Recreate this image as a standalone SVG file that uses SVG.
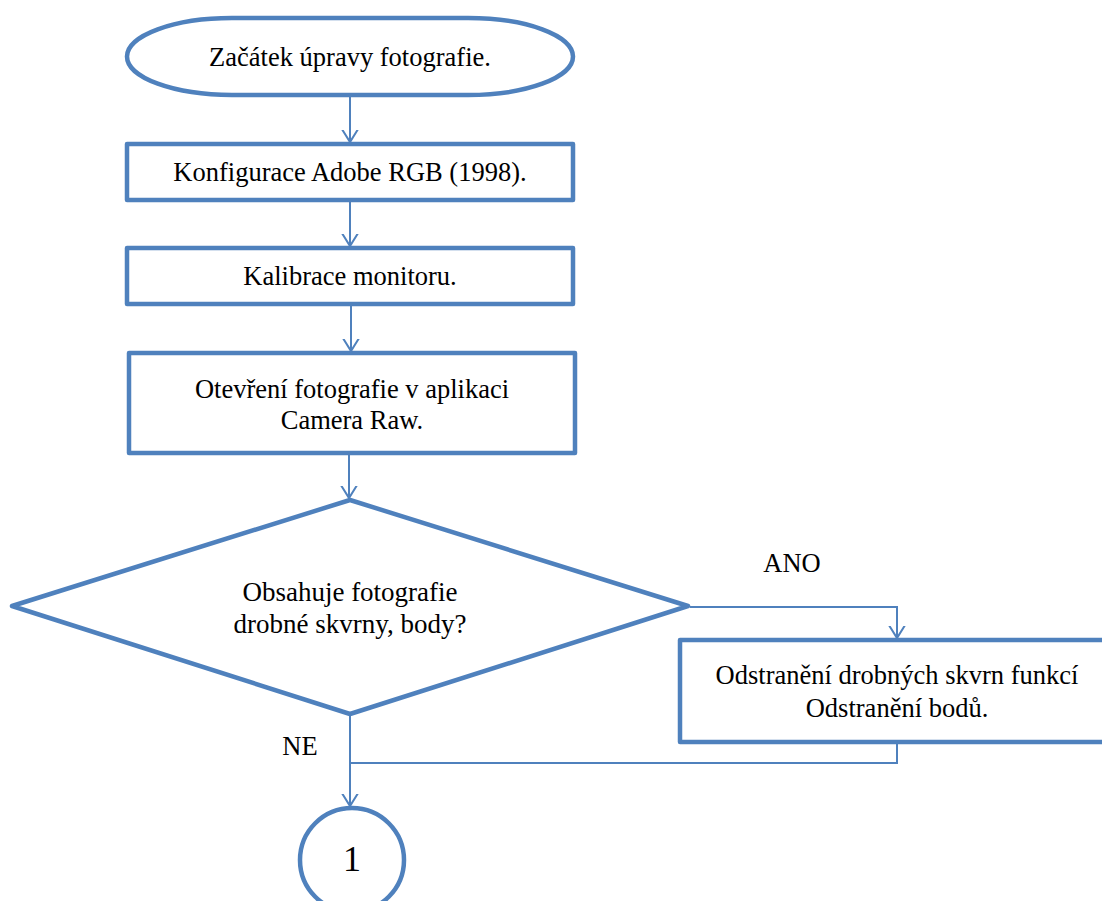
<svg xmlns="http://www.w3.org/2000/svg" width="1102" height="901" viewBox="0 0 1102 901">
<defs>
<style>
.shape{fill:#ffffff;stroke:#4F81BD;stroke-width:4.5;stroke-linejoin:round}
.conn{fill:none;stroke:#4F81BD;stroke-width:2}
.t{font-family:"Liberation Serif","Times New Roman",serif;font-size:26.5px;fill:#000000;text-anchor:middle}
.d{font-family:"Liberation Serif","Times New Roman",serif;font-size:27px;fill:#000000;text-anchor:middle}
</style>
<marker id="arr" viewBox="-12 -12 24 24" markerWidth="24" markerHeight="24" markerUnits="userSpaceOnUse" refX="0" refY="0" orient="auto">
<path d="M -16 -10 L 0 0 L -16 10" fill="none" stroke="#4F81BD" stroke-width="2"/>
</marker>
</defs>
<rect width="1102" height="901" fill="#ffffff"/>
<g id="connectors">
<line class="conn" x1="350" y1="96" x2="350" y2="142" marker-end="url(#arr)"/>
<line class="conn" x1="350" y1="202" x2="350" y2="246" marker-end="url(#arr)"/>
<line class="conn" x1="351" y1="306" x2="351" y2="351" marker-end="url(#arr)"/>
<line class="conn" x1="349" y1="455" x2="349" y2="498" marker-end="url(#arr)"/>
<polyline class="conn" points="690,607 897,607 897,638" marker-end="url(#arr)"/>
<polyline class="conn" points="897,744 897,763 350,763"/>
<line class="conn" x1="350" y1="716" x2="350" y2="806" marker-end="url(#arr)"/>
</g>
<g id="start">
<rect class="shape" x="127" y="18" width="446" height="77" rx="105" ry="38.5"/>
<text class="t" x="350" y="66">Začátek úpravy fotografie.</text>
</g>
<g id="config">
<rect class="shape" x="127" y="144" width="446" height="56"/>
<text class="t" x="350" y="181">Konfigurace Adobe RGB (1998).</text>
</g>
<g id="calib">
<rect class="shape" x="127" y="248" width="446" height="56"/>
<text class="t" x="350" y="285">Kalibrace monitoru.</text>
</g>
<g id="open">
<rect class="shape" x="129" y="353" width="446" height="100"/>
<text class="t" x="352" y="398">Otevření fotografie v aplikaci</text>
<text class="t" x="352" y="429">Camera Raw.</text>
</g>
<g id="decision">
<polygon class="shape" points="350,500 688,606 350,714 12,606"/>
<text class="d" x="350" y="601">Obsahuje fotografie</text>
<text class="d" x="350" y="633">drobné skvrny, body?</text>
</g>
<g id="spots">
<rect class="shape" x="680" y="640" width="440" height="102"/>
<text class="t" x="897" y="684">Odstranění drobných skvrn funkcí</text>
<text class="t" x="897" y="717">Odstranění bodů.</text>
</g>
<g id="labels">
<text class="t" x="792" y="572">ANO</text>
<text class="t" x="300" y="755">NE</text>
</g>
<g id="connector1">
<circle class="shape" cx="352" cy="860" r="52"/>
<text class="t" x="352" y="871" style="font-size:36px">1</text>
</g>
</svg>
